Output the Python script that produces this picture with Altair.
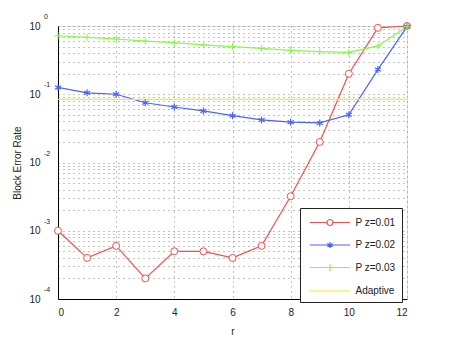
import altair as alt
import pandas as pd

# ---- data ----
r = list(range(13))
pz01 = [1.0e-3, 4.0e-4, 6.0e-4, 2.0e-4, 5.0e-4, 5.0e-4, 4.0e-4, 6.0e-4, 3.2e-3, 0.02, 0.2, 0.94, 1.0]
pz02 = [0.126, 0.105, 0.1, 0.075, 0.065, 0.057, 0.0485, 0.042, 0.039, 0.038, 0.05, 0.23, 0.98]
pz03 = [0.72, 0.68, 0.645, 0.60, 0.57, 0.53, 0.50, 0.47, 0.44, 0.42, 0.41, 0.51, 0.98]
adaptive = [0.084] * 13

series_names = ["P z=0.01", "P z=0.02", "P z=0.03", "Adaptive"]
series_colors = ["#ff4a4a", "#4a62ff", "#7dff3c", "#eeee22"]

x_ticks = [0, 2, 4, 6, 8, 10, 12]
decades = [1.0, 0.1, 0.01, 0.001, 0.0001]
decade_exps = ["0", "-1", "-2", "-3", "-4"]
y_grid = [m * d for d in [0.0001, 0.001, 0.01, 0.1] for m in range(1, 10)] + [1.0]

rows = []
for name, vals in zip(series_names, [pz01, pz02, pz03, adaptive]):
    for xi, v in zip(r, vals):
        rows.append({"r": xi, "ber": v, "series": name})
df = pd.DataFrame(rows)
exp_df = pd.DataFrame({"ber": decades, "exp": decade_exps})

FONT = "Liberation Sans"

xenc = alt.X("r:Q", scale=alt.Scale(domain=[0, 12], nice=False),
             axis=alt.Axis(values=x_ticks, title="r", grid=True, gridDash=[1, 4],
                           gridColor="#888888", ticks=False, labelPadding=8,
                           titlePadding=9, domainColor="black", labelFont=FONT,
                           titleFont=FONT, labelFontSize=10, titleFontSize=10,
                           titleFontWeight="normal", labelColor="#222", titleColor="#222"))
yscale = alt.Scale(type="log", domain=[0.0001, 1], nice=False)
yenc = alt.Y("ber:Q", scale=yscale,
             axis=alt.Axis(values=y_grid, title="Block Error Rate", grid=True,
                           gridDash=[1, 4], gridColor="#888888", ticks=False,
                           labelExpr="indexof([1,0.1,0.01,0.001,0.0001], datum.value) >= 0 ? '10' : ''",
                           labelPadding=18, titlePadding=6, domainColor="black",
                           labelFont=FONT, titleFont=FONT, labelFontSize=10,
                           titleFontSize=10, titleFontWeight="normal",
                           labelColor="#222", titleColor="#222", labelOverlap=False))

color_scale = alt.Scale(domain=series_names, range=series_colors)
color = alt.Color("series:N", scale=color_scale)

lines = alt.Chart(df).mark_line(strokeWidth=1.2, clip=False).encode(
    x=xenc, y=yenc, color=color, detail="series:N")

circle_pts = alt.Chart(df).transform_filter(alt.datum.series == series_names[0]).mark_point(
    shape="circle", size=49, filled=False, fill="white", fillOpacity=1, strokeWidth=1,
    opacity=1, clip=False).encode(x="r:Q", y="ber:Q", color=color)
star_pts = alt.Chart(df).transform_filter(alt.datum.series == series_names[1]).mark_point(
    shape="M0,-1L0,1M-0.87,-0.5L0.87,0.5M-0.87,0.5L0.87,-0.5", size=49, filled=False,
    strokeWidth=1.2, opacity=1, clip=False).encode(x="r:Q", y="ber:Q", color=color)
plus_pts = alt.Chart(df).transform_filter(alt.datum.series == series_names[2]).mark_point(
    shape="M-1,0L1,0M0,-1L0,1", size=49, filled=False, strokeWidth=1, opacity=1,
    clip=False).encode(x="r:Q", y="ber:Q", color=color)

legend_shapes = [
    "M-2.7,0L-0.4,0M0.4,0L2.7,0M0.4,0A0.4,0.4 0 1 1 -0.4,0A0.4,0.4 0 1 1 0.4,0",
    "M-2.7,0L2.7,0M0,-0.4L0,0.4M-0.35,-0.2L0.35,0.2M-0.35,0.2L0.35,-0.2",
    "M-2.7,0L2.7,0M0,-0.45L0,0.45",
    "M-2.7,0L2.7,0",
]
leg = alt.Legend(title=None, orient="none", legendX=242, legendY=182,
                 symbolSize=225, symbolStrokeWidth=1.2, symbolOpacity=1,
                 symbolOffset=15.5, labelOffset=17,
                 labelFont=FONT, labelFontSize=10, labelColor="#222",
                 strokeColor="#222", fillColor="white", padding=6, rowPadding=8.5)
legend_layer = alt.Chart(df).mark_point(opacity=0, filled=False).encode(
    x="r:Q", y="ber:Q",
    color=alt.Color("series:N", scale=color_scale, legend=leg),
    shape=alt.Shape("series:N", scale=alt.Scale(domain=series_names, range=legend_shapes),
                    legend=leg),
)

exps = alt.Chart(exp_df).mark_text(align="left", baseline="middle", fontSize=7,
                                   font=FONT, color="#222", dy=-9, clip=False).encode(
    x=alt.value(-14), y=alt.Y("ber:Q", scale=yscale), text="exp:N")

chart = alt.layer(lines, circle_pts, star_pts, plus_pts, legend_layer, exps).properties(
    width=349, height=273,
    autosize=alt.AutoSizeParams(type="none"),
    padding={"left": 50, "top": 18, "right": 35, "bottom": 38},
).configure_view(stroke="#222", strokeWidth=1).configure(background="white")

chart.save("out.html", embed_options={"renderer": "svg", "actions": False})
